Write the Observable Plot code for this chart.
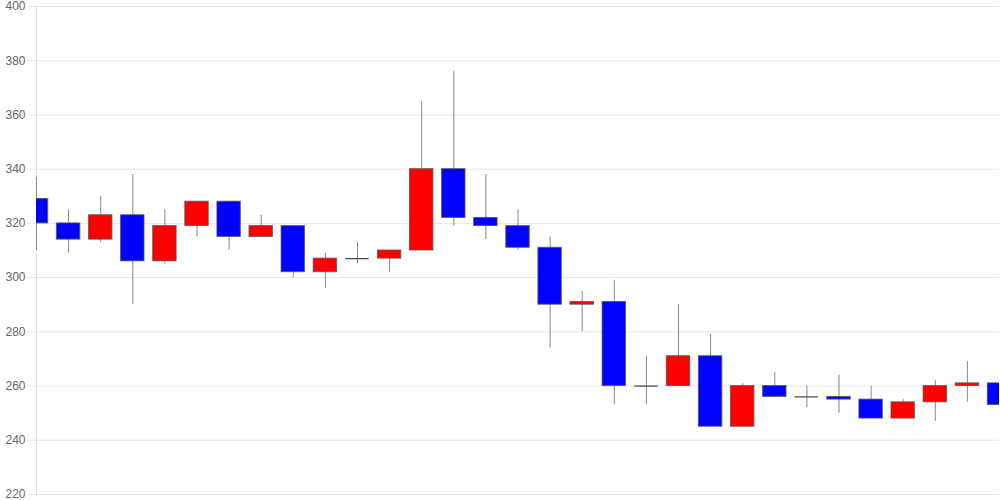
<!DOCTYPE html>
<html>
<head>
<meta charset="utf-8">
<script src="https://cdn.jsdelivr.net/npm/d3@7"></script>
<script src="https://cdn.jsdelivr.net/npm/@observablehq/plot@0.6"></script>
<style>
  html, body { margin: 0; padding: 0; background: #fff; }
  #chart svg { display: block; }
</style>
</head>
<body>
<div id="chart"></div>
<script>
// Daily candles (index 0 … 30)
const opens  = [329, 320, 314, 323, 306, 319, 328, 315, 319, 302, 307, 307, 310, 340, 322, 319, 311, 290, 291, 260, 260, 271, 245, 260, 256, 256, 255, 248, 254, 260, 261];
const highs  = [337, 325, 330, 338, 325, 328, 328, 323, 319, 309, 313, 310, 365, 376, 338, 325, 315, 295, 299, 271, 290, 279, 261, 265, 260, 264, 260, 255, 262, 269, 261];
const lows   = [310, 309, 313, 290, 305, 315, 310, 315, 300, 296, 305, 302, 310, 319, 314, 310, 274, 280, 253, 253, 260, 245, 245, 256, 252, 250, 248, 248, 247, 254, 246];
const closes = [320, 314, 323, 306, 319, 328, 315, 319, 302, 307, 307, 310, 340, 322, 319, 311, 290, 291, 260, 260, 271, 245, 260, 256, 256, 255, 248, 254, 260, 261, 253];
const yTicks = [220, 240, 260, 280, 300, 320, 340, 360, 380, 400];

const data = opens.map((o, i) => ({i, open: o, high: highs[i], low: lows[i], close: closes[i]}));
const half = 0.365;

const chart = Plot.plot({
  width: 1000,
  height: 500,
  marginLeft: 36,
  marginRight: 1,
  marginTop: 6,
  marginBottom: 6,
  style: {fontFamily: "'Liberation Sans', Arial, sans-serif", fontSize: "12px", background: "#fff"},
  x: {domain: [0, data.length - 1], axis: null},
  y: {domain: [220, 400]},
  marks: [
    Plot.ruleY(yTicks, {stroke: "#e6e6e6", strokeWidth: 1}),
    Plot.axisY({ticks: yTicks, tickSize: 9, tickPadding: 2, stroke: "#e6e6e6", fill: "#666", fontSize: 12, tickFormat: d => String(d)}),
    Plot.ruleX([0], {stroke: "#e0e0e0"}),
    Plot.ruleX(data, {x: "i", y1: "low", y2: "high", stroke: "#888", strokeWidth: 1, clip: true}),
    Plot.rect(data.filter(d => d.open !== d.close), {
      x1: d => d.i - half, x2: d => d.i + half,
      y1: "open", y2: "close",
      fill: d => d.close > d.open ? "#ff0000" : "#0000ff",
      stroke: "#555", strokeOpacity: 0.8, strokeWidth: 1, clip: true
    }),
    Plot.ruleY(data.filter(d => d.open === d.close), {
      x1: d => d.i - half, x2: d => d.i + half, y: "open",
      stroke: "#444", strokeWidth: 1.2, clip: true
    })
  ]
});
document.getElementById("chart").appendChild(chart);
</script>
</body>
</html>
